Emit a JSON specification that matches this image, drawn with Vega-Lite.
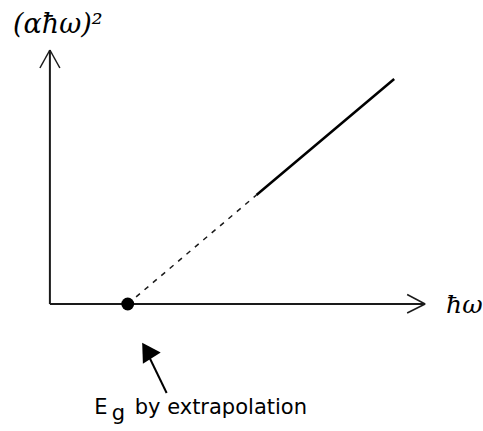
{
  "$schema": "https://vega.github.io/schema/vega-lite/v6.json",
  "width": 483,
  "height": 431,
  "padding": 0,
  "autosize": {"type": "fit", "contains": "padding"},
  "background": "white",
  "config": {"view": {"stroke": null}},
  "datasets": {
    "axes": [
      {"x": 0, "y": 0, "x2": 0, "y2": 25.4},
      {"x": 0, "y": 0, "x2": 37.6, "y2": 0}
    ],
    "arrowheads": [
      {"x": -1.0, "y": 23.6, "x2": 0, "y2": 25.4},
      {"x": 1.0, "y": 23.6, "x2": 0, "y2": 25.4},
      {"x": 35.8, "y": 0.95, "x2": 37.6, "y2": 0},
      {"x": 35.8, "y": -0.9, "x2": 37.6, "y2": 0}
    ],
    "extrapolation": [
      {"energy": 7.8, "absorption": 0},
      {"energy": 20.7, "absorption": 10.9}
    ],
    "measured": [
      {"energy": 20.7, "absorption": 10.9},
      {"energy": 34.5, "absorption": 22.5}
    ],
    "gap": [{"energy": 7.8, "absorption": 0}],
    "pointer": [{"x": 10.0, "y": -5.4, "x2": 11.7, "y2": -8.9}],
    "pointerHead": [{"x": 9.73, "y": -4.64}],
    "yLabel": [{"x": -3.7, "y": 27.1, "label": "(αħω)²"}],
    "xLabel": [{"x": 39.7, "y": -0.9, "label": "ħω"}],
    "captionLabels": [
      {"x": 4.45, "y": -11.0, "label": "E"},
      {"x": 8.5, "y": -11.0, "label": "by extrapolation"}
    ],
    "subscript": [{"x": 6.2, "y": -11.6, "label": "g"}]
  },
  "layer": [
    {
      "data": {"name": "axes"},
      "mark": {"type": "rule", "color": "#1a1a1a", "strokeWidth": 2},
      "encoding": {
        "x": {"field": "x", "type": "quantitative", "scale": {"domain": [-5, 43.3], "nice": false, "zero": false}, "axis": null},
        "y": {"field": "y", "type": "quantitative", "scale": {"domain": [-12.7, 30.4], "nice": false, "zero": false}, "axis": null},
        "x2": {"field": "x2"},
        "y2": {"field": "y2"}
      }
    },
    {
      "data": {"name": "arrowheads"},
      "mark": {"type": "rule", "color": "#1a1a1a", "strokeWidth": 1.5},
      "encoding": {
        "x": {"field": "x", "type": "quantitative"},
        "y": {"field": "y", "type": "quantitative"},
        "x2": {"field": "x2"},
        "y2": {"field": "y2"}
      }
    },
    {
      "data": {"name": "extrapolation"},
      "mark": {"type": "line", "color": "#1a1a1a", "strokeWidth": 1.5, "strokeDash": [5, 6]},
      "encoding": {
        "x": {"field": "energy", "type": "quantitative"},
        "y": {"field": "absorption", "type": "quantitative"}
      }
    },
    {
      "data": {"name": "measured"},
      "mark": {"type": "line", "color": "#000000", "strokeWidth": 2.5},
      "encoding": {
        "x": {"field": "energy", "type": "quantitative"},
        "y": {"field": "absorption", "type": "quantitative"}
      }
    },
    {
      "data": {"name": "gap"},
      "mark": {"type": "point", "shape": "circle", "filled": true, "color": "#000000", "opacity": 1, "size": 165},
      "encoding": {
        "x": {"field": "energy", "type": "quantitative"},
        "y": {"field": "absorption", "type": "quantitative"}
      }
    },
    {
      "data": {"name": "pointer"},
      "mark": {"type": "rule", "color": "#000000", "strokeWidth": 2},
      "encoding": {
        "x": {"field": "x", "type": "quantitative"},
        "y": {"field": "y", "type": "quantitative"},
        "x2": {"field": "x2"},
        "y2": {"field": "y2"}
      }
    },
    {
      "data": {"name": "pointerHead"},
      "mark": {"type": "point", "shape": "triangle-up", "filled": true, "color": "#000000", "opacity": 1, "size": 441, "angle": -32},
      "encoding": {
        "x": {"field": "x", "type": "quantitative"},
        "y": {"field": "y", "type": "quantitative"}
      }
    },
    {
      "data": {"name": "yLabel"},
      "mark": {"type": "text", "font": "DejaVu Serif", "fontStyle": "italic", "fontSize": 27, "align": "left", "baseline": "alphabetic", "color": "#000000"},
      "encoding": {
        "x": {"field": "x", "type": "quantitative"},
        "y": {"field": "y", "type": "quantitative"},
        "text": {"field": "label"}
      }
    },
    {
      "data": {"name": "xLabel"},
      "mark": {"type": "text", "font": "DejaVu Serif", "fontStyle": "italic", "fontSize": 25, "align": "left", "baseline": "alphabetic", "color": "#000000"},
      "encoding": {
        "x": {"field": "x", "type": "quantitative"},
        "y": {"field": "y", "type": "quantitative"},
        "text": {"field": "label"}
      }
    },
    {
      "data": {"name": "captionLabels"},
      "mark": {"type": "text", "font": "DejaVu Sans", "fontSize": 21, "align": "left", "baseline": "alphabetic", "color": "#000000"},
      "encoding": {
        "x": {"field": "x", "type": "quantitative"},
        "y": {"field": "y", "type": "quantitative"},
        "text": {"field": "label"}
      }
    },
    {
      "data": {"name": "subscript"},
      "mark": {"type": "text", "font": "DejaVu Sans", "fontSize": 21, "align": "left", "baseline": "alphabetic", "color": "#000000"},
      "encoding": {
        "x": {"field": "x", "type": "quantitative"},
        "y": {"field": "y", "type": "quantitative"},
        "text": {"field": "label"}
      }
    }
  ]
}
